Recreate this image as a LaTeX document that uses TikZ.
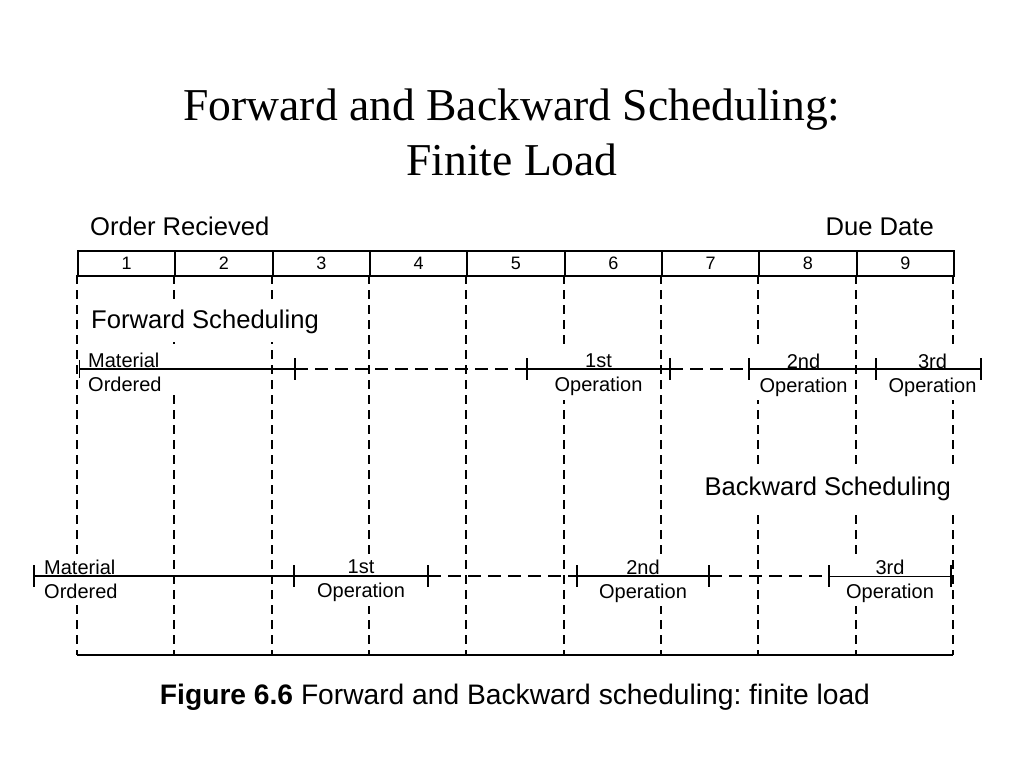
\documentclass[tikz,border=0pt]{standalone}
\usepackage{fontspec}
\setmainfont{Liberation Serif}
\setsansfont{Liberation Sans}
\usetikzlibrary{calc,positioning}
\frenchspacing

\begin{document}
\begin{tikzpicture}[x=1pt, y=-1pt, node distance=14pt,
		every node/.style={font=\sffamily\fontsize{20}{24}\selectfont},
		cell/.style={draw, line width=2pt, minimum width=\Col, minimum height=25pt,
			inner sep=0pt, anchor=north west, font=\sffamily\fontsize{18}{20}\selectfont},
		grid/.style={line width=2pt, dash pattern=on 9pt off 6pt},
		bar/.style={line width=2pt},
		gapline/.style={line width=2pt, dash pattern=on 13pt off 7pt},
		oplabel/.style={fill=white, align=center, inner xsep=5pt, inner ysep=4pt},
		matlabel/.style={fill=white, align=left, inner sep=4pt, anchor=west},
		big/.style={font=\sffamily\fontsize{25.6}{30}\selectfont, inner sep=0pt},
		sched/.style={big, fill=white, inner xsep=5pt, inner ysep=8pt}
	]
	\useasboundingbox (0,0) rectangle (1024,768);
	\newlength\Col \setlength\Col{97.33pt}
	
	\node[font=\rmfamily\fontsize{45.6}{55}\selectfont, align=center] (title) at (512,132)
		{Forward and Backward Scheduling:\\Finite Load};
	
	% header row and grid
	\coordinate (c0) at (77,250);
	\foreach \i in {1,...,9}
		\coordinate (c\i) at ($(c0) + (\i*\Col,0)$);
	\foreach \i [count=\j from 0] in {1,...,9}
		\node[cell] (h\i) at (c\j) {\i};
	\foreach \i in {0,...,9} {
		\coordinate (t\i) at ($(c\i) + (0,25)$);
		\coordinate (g\i) at ($(c\i) + (0,405)$);
		\draw[grid] (t\i) -- (g\i);
	}
	\draw[bar] (g0) -- (g9);
	
	\node[big, above=of h1.north west, anchor=south west, xshift=13pt] (order) {Order Recieved};
	\node[big, above=of h9.north east, anchor=south east, xshift=-21pt] (due) {Due Date};
	
	% forward
	\node[sched, anchor=west] (fwd) at (86,322) {Forward Scheduling};
	\coordinate (f0) at (79,369);
	\coordinate (f1) at (295,369);
	\coordinate (f2) at (527,369);
	\coordinate (f3) at (670,369);
	\coordinate (f4) at (749,369);
	\coordinate (f5) at (876,369);
	\coordinate (f6) at (981,369);
	\node[matlabel, text width=86pt] (fmat) at (84,372) {Material\\Ordered};
	\node[oplabel] (fop1) at ($(f2)!.5!(f3) + (0,6)$) {1st\\Operation};
	\node[oplabel] (fop2) at ($(f4)!.5!(f5) + (-9,6)$) {2nd\\Operation};
	\node[oplabel] (fop3) at ($(f5)!.5!(f6) + (4,6)$) {3rd\\Operation};
	\draw[bar] (f0) -- (f1) (f2) -- (f3) (f4) -- (f5) -- (f6);
	\draw[gapline] (f1) -- (f2) (f3) -- (f4);
	\foreach \p in {f1,f2,f3,f4,f5,f6}
		\draw[bar] ($(\p)+(0,-11)$) -- ($(\p)+(0,11)$);
	\draw[line width=1pt] ($(f0)+(0,-9)$) -- ($(f0)+(0,9)$);
	
	% backward
	\node[sched, anchor=east] (bwd) at (956,489) {Backward Scheduling};
	\coordinate (b0) at (34,576);
	\coordinate (b1) at (294,576);
	\coordinate (b2) at (428,576);
	\coordinate (b3) at (577,576);
	\coordinate (b4) at (709,576);
	\coordinate (b5) at (829,576);
	\coordinate (b6) at (951,576);
	\node[matlabel, text width=74pt] (bmat) at (40,579) {Material\\Ordered};
	\node[oplabel] (bop1) at ($(b1)!.5!(b2) + (0,5)$) {1st\\Operation};
	\node[oplabel] (bop2) at ($(b3)!.5!(b4) + (0,5)$) {2nd\\Operation};
	\node[oplabel] (bop3) at ($(b5)!.5!(b6) + (0,5)$) {3rd\\Operation};
	\draw[bar] (b0) -- (b1) -- (b2) (b3) -- (b4);
	\draw[line width=1pt] (b5) -- (b6);
	\draw[gapline] (b2) -- (b3) (b4) -- (b5);
	\foreach \p in {b1,b2,b3,b4,b5,b6}
		\draw[bar] ($(\p)+(0,-11)$) -- ($(\p)+(0,11)$);
	\draw[line width=1.5pt] ($(b0)+(0,-11)$) -- ($(b0)+(0,11)$);
	
	\node[font=\sffamily\fontsize{28.2}{34}\selectfont] (caption) at (515,697)
		{\textbf{Figure 6.6} Forward and Backward scheduling: finite load};
\end{tikzpicture}
\end{document}
